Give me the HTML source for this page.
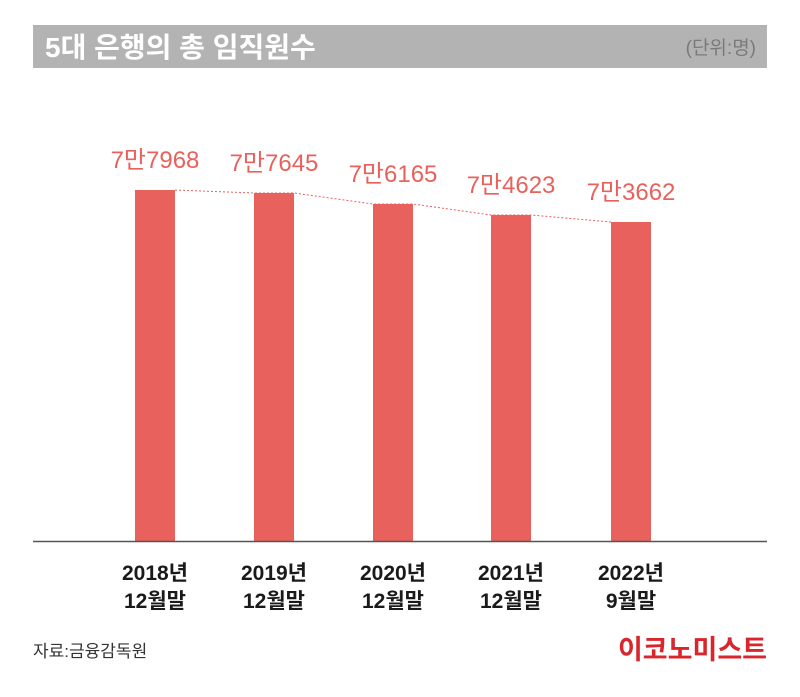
<!DOCTYPE html>
<html><head><meta charset="utf-8"><style>
body{margin:0;width:800px;height:692px;background:#fff;overflow:hidden;font-family:"Liberation Sans","Noto Sans CJK KR",sans-serif;}
</style></head><body>
<svg width="800" height="692" xmlns="http://www.w3.org/2000/svg" style="font-family:'Liberation Sans','Noto Sans CJK KR',sans-serif">
<rect x="33" y="25" width="734" height="43" fill="#b3b3b3"/>
<text x="45" y="57" font-size="28" font-weight="bold" fill="#fff">5대 은행의 총 임직원수</text>
<text x="756" y="54" font-size="19" fill="#7a7a7a" text-anchor="end">(단위:명)</text>
<g fill="#e8615d">
<rect x="135" y="190" width="40" height="351"/>
<rect x="254" y="193" width="40" height="348"/>
<rect x="373" y="204" width="40" height="337"/>
<rect x="491" y="215" width="40" height="326"/>
<rect x="611" y="222" width="40" height="319"/>
</g>
<polyline points="175,190 254,193 294,193 373,204 413,204 491,215 531,215 611,222" fill="none" stroke="#e8615d" stroke-width="1" stroke-dasharray="2,2"/>
<g fill="#e8615d" font-size="24" text-anchor="middle">
<text x="155" y="168">7만7968</text>
<text x="274" y="171">7만7645</text>
<text x="393" y="182">7만6165</text>
<text x="511" y="193">7만4623</text>
<text x="631" y="200">7만3662</text>
</g>
<line x1="33" y1="541.5" x2="767" y2="541.5" stroke="#555" stroke-width="1.5"/>
<g fill="#1a1a1a" font-size="21" text-anchor="middle" font-weight="bold">
<text x="155" y="580">2018년</text><text x="155" y="608">12월말</text>
<text x="274" y="580">2019년</text><text x="274" y="608">12월말</text>
<text x="393" y="580">2020년</text><text x="393" y="608">12월말</text>
<text x="511" y="580">2021년</text><text x="511" y="608">12월말</text>
<text x="631" y="580">2022년</text><text x="631" y="608">9월말</text>
</g>
<text x="33" y="657" font-size="17" fill="#333">자료:금융감독원</text>
<text x="767" y="659" font-size="27" font-weight="bold" fill="#d9262c" text-anchor="end">이코노미스트</text>
</svg>
</body></html>
